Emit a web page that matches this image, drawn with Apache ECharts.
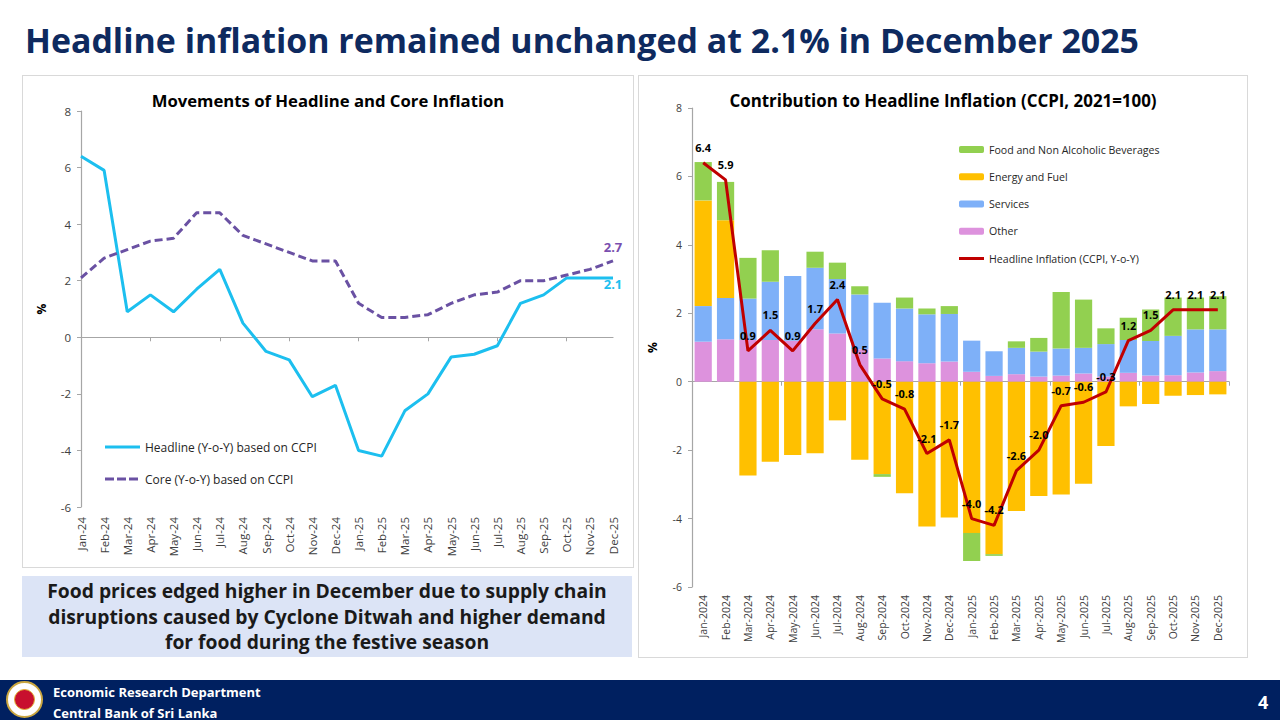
<!DOCTYPE html>
<html><head><meta charset="utf-8">
<script src="https://cdn.jsdelivr.net/npm/echarts@6/dist/echarts.min.js"></script>
<style>
body{margin:0;width:1280px;height:720px;position:relative;background:#fff;font-family:'Open Sans',Lato,sans-serif;overflow:hidden}
#title{position:absolute;left:25px;top:18px;font-size:33.9px;font-weight:700;color:#0E2A5F;white-space:nowrap;line-height:44px}
.panel{position:absolute;border:1px solid #d9d9d9;box-sizing:border-box}
.chart{position:absolute}
#caption{position:absolute;left:22px;top:576px;width:610px;height:81px;background:#DCE4F6;text-align:center;font-weight:700;font-size:19.3px;line-height:25.5px;color:#1a1a1a;padding-top:2px;box-sizing:border-box;white-space:nowrap}
#footer{position:absolute;left:0;top:680px;width:1280px;height:40px;background:#002060}
#f1,#f2{position:absolute;left:53px;color:#fff;font-weight:700;font-size:13px;white-space:nowrap;line-height:16px}
#f1{top:4px}#f2{top:25px}
#pg{position:absolute;left:1258px;top:10px;color:#fff;font-weight:700;font-size:18px}
#logo{position:absolute;left:6px;top:1px;width:37px;height:37px;border-radius:50%;background:#fff;box-sizing:border-box;border:2px solid #c9a640}
#logo div{position:absolute;left:6px;top:6px;width:21px;height:21px;border-radius:50%;background:#C8102E;border:1px solid #e0b030;box-sizing:border-box}
</style></head>
<body>
<div id="title">Headline inflation remained unchanged at 2.1% in December 2025</div>
<div class="panel" style="left:22px;top:75px;width:612px;height:493px"></div>
<div class="panel" style="left:638px;top:75px;width:610px;height:583px"></div>
<div id="c1" class="chart" style="left:22px;top:75px;width:612px;height:493px"></div>
<div id="c2" class="chart" style="left:638px;top:75px;width:610px;height:583px"></div>
<div id="caption">Food prices edged higher in December due to supply chain<br>disruptions caused by Cyclone Ditwah and higher demand<br>for food during the festive season</div>
<div id="footer"><div id="logo"><div></div></div><div id="f1">Economic Research Department</div><div id="f2">Central Bank of Sri Lanka</div><div id="pg">4</div></div>
<script>
const monthsShort = ['Jan-24','Feb-24','Mar-24','Apr-24','May-24','Jun-24','Jul-24','Aug-24','Sep-24','Oct-24','Nov-24','Dec-24','Jan-25','Feb-25','Mar-25','Apr-25','May-25','Jun-25','Jul-25','Aug-25','Sep-25','Oct-25','Nov-25','Dec-25'];
const monthsLong = ['Jan-2024','Feb-2024','Mar-2024','Apr-2024','May-2024','Jun-2024','Jul-2024','Aug-2024','Sep-2024','Oct-2024','Nov-2024','Dec-2024','Jan-2025','Feb-2025','Mar-2025','Apr-2025','May-2025','Jun-2025','Jul-2025','Aug-2025','Sep-2025','Oct-2025','Nov-2025','Dec-2025'];
const headline = [6.4,5.9,0.9,1.5,0.9,1.7,2.4,0.5,-0.5,-0.8,-2.1,-1.7,-4.0,-4.2,-2.6,-2.0,-0.7,-0.6,-0.3,1.2,1.5,2.1,2.1,2.1];
const core = [2.1,2.8,3.1,3.4,3.5,4.4,4.4,3.6,3.3,3.0,2.7,2.7,1.2,0.7,0.7,0.8,1.2,1.5,1.6,2.0,2.0,2.2,2.4,2.7];
const other = [1.17,1.24,1.22,1.22,1.20,1.53,1.41,0.95,0.68,0.60,0.54,0.59,0.29,0.17,0.22,0.15,0.18,0.24,0.15,0.26,0.18,0.19,0.27,0.31];
const services = [1.04,1.21,1.21,1.70,1.89,1.80,1.59,1.60,1.63,1.54,1.43,1.39,0.91,0.72,0.77,0.73,0.79,0.75,0.95,0.96,1.01,1.15,1.26,1.22];
const energy = [3.09,2.27,-2.74,-2.34,-2.14,-2.09,-1.13,-2.28,-2.70,-3.26,-4.23,-3.97,-4.42,-5.04,-3.78,-3.34,-3.30,-2.98,-1.88,-0.72,-0.65,-0.41,-0.39,-0.37];
const food = [1.12,1.12,1.19,0.92,0,0.47,0.48,0.24,-0.08,0.32,0.17,0.23,-0.82,-0.05,0.19,0.40,1.65,1.41,0.46,0.65,0.92,1.12,0.93,0.97];
const yTicks = {min:-6, max:8, interval:2};

const FONT = 'Open Sans';
const axisGray = '#a6a6a6';
const labelGray = '#404040';

function yAxisCfg(fs){
  return {type:'value', min:yTicks.min, max:yTicks.max, interval:yTicks.interval,
    name:'%', nameLocation:'middle', nameGap:34, nameRotate:90,
    nameTextStyle:{fontFamily:FONT,fontSize:12,fontWeight:'bold',color:'#000'},
    axisLine:{show:true,lineStyle:{color:axisGray,width:1.2}},
    axisTick:{show:true,length:4,lineStyle:{color:axisGray}},
    axisLabel:{fontFamily:FONT,fontSize:fs,color:labelGray,margin:10},
    splitLine:{show:false}};
}

const lastIdx = headline.length - 1;
const c1 = echarts.init(document.getElementById('c1'), null, {renderer:'svg'});
c1.setOption({
  animation:false,
  title:{text:'Movements of Headline and Core Inflation', left:'center', top:12,
    textStyle:{fontFamily:FONT,fontSize:16.7,fontWeight:'bold',color:'#000'}},
  grid:{left:59,right:21,top:36,bottom:61},
  legend:{orient:'vertical', left:83, top:365, padding:0, itemWidth:35, itemHeight:14, itemGap:18,
    textStyle:{fontFamily:FONT,fontSize:12,color:'#262626',lineHeight:14},
    data:[
      {name:'Headline (Y-o-Y) based on CCPI', icon:'path://M0,0M35,14M0,5.5H35V8.5H0Z', itemStyle:{borderWidth:0}},
      {name:'Core (Y-o-Y) based on CCPI', icon:'path://M0,0M35,14M0,5.5h9v3h-9zM12,5.5h9v3h-9zM24,5.5h9v3h-9z', itemStyle:{borderWidth:0}}
    ]},
  xAxis:[
    {type:'category', data:monthsShort, boundaryGap:false,
      axisLine:{show:true,onZero:true,lineStyle:{color:axisGray,width:1.2}},
      axisTick:{show:true,length:4,lineStyle:{color:axisGray}}, axisLabel:{show:false}},
    {type:'category', data:monthsShort, boundaryGap:false, position:'bottom',
      axisLine:{show:false,onZero:false}, axisTick:{show:false},
      axisLabel:{rotate:90,fontFamily:FONT,fontSize:11.5,color:labelGray,margin:10,interval:0}}
  ],
  yAxis:yAxisCfg(11.5),
  series:[
    {name:'Headline (Y-o-Y) based on CCPI', type:'line', data:headline, symbol:'circle', symbolSize:0, showAllSymbol:true,
      lineStyle:{color:'#1CBFEF',width:3}, itemStyle:{color:'#1CBFEF'},
      label:{show:true, position:'bottom', distance:0, fontFamily:FONT, fontSize:13, fontWeight:'bold', color:'#1CBFEF',
        formatter:p=>p.dataIndex===lastIdx?p.value.toFixed(1):''}},
    {name:'Core (Y-o-Y) based on CCPI', type:'line', data:core, symbol:'circle', symbolSize:0, showAllSymbol:true,
      lineStyle:{color:'#6A51A3',width:3,type:[8,4]}, itemStyle:{color:'#6A51A3'},
      label:{show:true, position:'top', distance:7, fontFamily:FONT, fontSize:13, fontWeight:'bold', color:'#7A4FAF',
        formatter:p=>p.dataIndex===lastIdx?p.value.toFixed(1):''}}
  ]
});

const c2 = echarts.init(document.getElementById('c2'), null, {renderer:'svg'});
const barBase = {type:'bar', stack:'contrib', barCategoryGap:'23%'};
c2.setOption({
  animation:false,
  title:{text:'Contribution to Headline Inflation (CCPI, 2021=100)', left:'center', top:12,
    textStyle:{fontFamily:FONT,fontSize:16.9,fontWeight:'bold',color:'#000'}},
  grid:{left:49,right:19,top:33,bottom:71},
  legend:{orient:'vertical', left:321, top:68, padding:0, itemWidth:25, itemHeight:7, itemGap:14.25,
    textStyle:{fontFamily:FONT,fontSize:10.6,color:'#262626',lineHeight:13},
    data:['Food and Non Alcoholic Beverages','Energy and Fuel','Services','Other',
      {name:'Headline Inflation (CCPI, Y-o-Y)', icon:'path://M0,0M25,7M0,2H25V5H0Z', itemStyle:{borderWidth:0}}]},
  xAxis:[
    {type:'category', data:monthsLong,
      axisLine:{show:true,onZero:true,lineStyle:{color:axisGray,width:1.2}},
      axisTick:{show:true,length:4,lineStyle:{color:axisGray}}, axisLabel:{show:false}},
    {type:'category', data:monthsLong, position:'bottom',
      axisLine:{show:false,onZero:false}, axisTick:{show:false},
      axisLabel:{rotate:90,fontFamily:FONT,fontSize:10.5,color:labelGray,margin:8,interval:0}}
  ],
  yAxis:yAxisCfg(10.5),
  series:[
    Object.assign({name:'Other', data:other, itemStyle:{color:'#DD92DD'}}, barBase),
    Object.assign({name:'Services', data:services, itemStyle:{color:'#7EB0F8'}}, barBase),
    Object.assign({name:'Energy and Fuel', data:energy, itemStyle:{color:'#FFC000'}}, barBase),
    Object.assign({name:'Food and Non Alcoholic Beverages', data:food, itemStyle:{color:'#92D050'}}, barBase),
    {name:'Headline Inflation (CCPI, Y-o-Y)', type:'line', data:headline, symbol:'circle', symbolSize:0, showAllSymbol:true, z:5,
      lineStyle:{color:'#C00000',width:3}, itemStyle:{color:'#C00000'},
      label:{show:true, position:'top', distance:10, fontFamily:FONT, fontSize:11, fontWeight:'bold', color:'#000',
        formatter:p=>p.value.toFixed(1)}}
  ]
});
</script>
</body></html>
